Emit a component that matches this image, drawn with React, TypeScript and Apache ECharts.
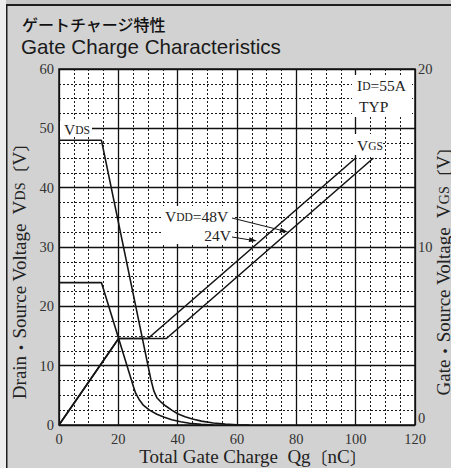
import React, { useEffect, useRef } from "react";
import * as echarts from "echarts";

// ---- data ----
const qgVds48 = [0, 14.3, 30, 31, 32, 33, 34.5, 36, 38, 40, 42.5, 45, 48, 52, 56, 60, 64];
const vds48 = [48, 48, 10, 7.6, 5.7, 4.6, 3.8, 3.2, 2.5, 1.9, 1.4, 1.0, 0.65, 0.35, 0.15, 0.05, 0];
const qgVds24 = [0, 14.3, 25, 25.8, 27, 28.5, 30.5, 33, 35.5, 38, 41, 44, 48, 52];
const vds24 = [24, 24, 6.6, 5.4, 4.3, 3.3, 2.5, 1.8, 1.3, 0.9, 0.55, 0.3, 0.1, 0];
const qgVgs24 = [0, 20.1, 30, 100];
const vgs24 = [0, 4.86, 4.86, 15];
const qgVgs48 = [0, 20.1, 36.2, 106];
const vgs48 = [0, 4.86, 4.86, 15];

const xRange = [0, 120];
const xStep = 20;
const yLeftRange = [0, 60];
const yLeftStep = 10;
const yRightRange = [0, 20];
const yRightStep = 10;

const SERIF = "'Liberation Serif', 'Times New Roman', serif";
const CJK = "'Noto Sans CJK JP', 'Noto Sans', sans-serif";
const INK = "#151515";

function zip(xs: number[], ys: number[]) {
  return xs.map((x, i) => [x, ys[i]]);
}

function arrow(x1: number, y1: number, x2: number, y2: number) {
  const dx = x2 - x1;
  const dy = y2 - y1;
  const L = Math.hypot(dx, dy);
  const ux = dx / L;
  const uy = dy / L;
  const len = 8;
  const w = 2.4;
  const bx = x2 - ux * len;
  const by = y2 - uy * len;
  return [
    {
      type: "line",
      z: 120,
      shape: { x1, y1, x2: bx, y2: by },
      style: { stroke: INK, lineWidth: 1 },
    },
    {
      type: "polygon",
      z: 120,
      shape: {
        points: [
          [x2, y2],
          [bx - uy * w, by + ux * w],
          [bx + uy * w, by - ux * w],
        ],
      },
      style: { fill: INK },
    },
  ];
}

export default function App() {
  const ref = useRef<HTMLDivElement>(null);
  useEffect(() => {
    document.body.style.margin = "0";
    if (!ref.current) return;
    const chart = echarts.init(ref.current, undefined, { renderer: "svg" });
    const lineSeries = (name: string, data: number[][], yAxisIndex: number) => ({
      name,
      type: "line",
      yAxisIndex,
      data,
      showSymbol: false,
      symbol: "none",
      lineStyle: { color: INK, width: 1.6 },
      z: 5,
    });
    const axisTitleRich = {
      n: { fontFamily: SERIF, fontSize: 19, fill: "#222", verticalAlign: "bottom" },
      s: { fontFamily: SERIF, fontSize: 14, fill: "#222", verticalAlign: "bottom", padding: [0, 0, 1, 0] },
      b: { fontFamily: CJK, fontSize: 17, fill: "#222", verticalAlign: "bottom" },
    };
    const annRich = {
      n: { fontFamily: SERIF, fontSize: 15.5, fill: "#222", verticalAlign: "bottom" },
      s: { fontFamily: SERIF, fontSize: 11.5, fill: "#222", verticalAlign: "bottom", padding: [0, 0, 1, 0] },
    };
    const minorLine = { show: true, lineStyle: { color: "#1a1a1a", width: 1, type: [2, 2] } };
    const majorLine = { show: true, lineStyle: { color: "#111", width: 1.3 } };
    chart.setOption({
      animation: false,
      backgroundColor: "#d2d2d2",
      grid: {
        left: 59,
        right: 36,
        top: 69,
        bottom: 43,
        show: true,
        backgroundColor: "#ffffff",
        borderColor: INK,
        borderWidth: 1.5,
        containLabel: false,
      },
      xAxis: {
        type: "value",
        min: xRange[0],
        max: xRange[1],
        interval: xStep,
        axisLine: { show: false },
        axisTick: { show: false },
        axisLabel: { fontFamily: SERIF, fontSize: 14.5, color: "#333", margin: 6 },
        splitLine: majorLine,
        minorTick: { show: false, splitNumber: 4 },
        minorSplitLine: minorLine,
      },
      yAxis: [
        {
          type: "value",
          min: yLeftRange[0],
          max: yLeftRange[1],
          interval: yLeftStep,
          axisLine: { show: false },
          axisTick: { show: false },
          axisLabel: { fontFamily: SERIF, fontSize: 14.5, color: "#333", margin: 5 },
          splitLine: majorLine,
          minorTick: { show: false, splitNumber: 4 },
          minorSplitLine: minorLine,
        },
        {
          type: "value",
          position: "right",
          min: yRightRange[0],
          max: yRightRange[1],
          interval: yRightStep,
          axisLine: { show: false },
          axisTick: { show: false },
          axisLabel: {
            fontFamily: SERIF,
            fontSize: 14.5,
            color: "#333",
            margin: 3,
            formatter: (v: number) => (v === 0 ? "{z|0}" : String(v)),
            rich: { z: { fontFamily: SERIF, fontSize: 14.5, color: "#333", padding: [0, 0, 14, 0] } },
          },
          splitLine: { show: false },
        },
      ],
      series: [
        lineSeries("VDS 48V", zip(qgVds48, vds48), 0),
        lineSeries("VDS 24V", zip(qgVds24, vds24), 0),
        lineSeries("VGS 24V", zip(qgVgs24, vgs24), 1),
        lineSeries("VGS 48V", zip(qgVgs48, vgs48), 1),
      ],
      graphic: [
        // frame
        { type: "rect", z: 0, shape: { x: 0, y: 0, width: 6, height: 468 }, style: { fill: "#ededed" } },
        { type: "rect", z: 0, shape: { x: 6, y: 0, width: 445, height: 4 }, style: { fill: "#c6c6c6" } },
        { type: "rect", z: 0, shape: { x: 6, y: 4, width: 445, height: 2 }, style: { fill: "#1e1e1e" } },
        { type: "rect", z: 0, shape: { x: 6, y: 4, width: 1.5, height: 464 }, style: { fill: "#1e1e1e" } },
        // titles
        {
          type: "text",
          left: 22,
          top: 16,
          style: { text: "ゲートチャージ特性", fontFamily: CJK, fontSize: 16, fontWeight: 500, fill: "#111" },
        },
        {
          type: "text",
          left: 21,
          top: 36,
          style: {
            text: "Gate Charge Characteristics",
            fontFamily: "'Liberation Sans', Arial, sans-serif",
            fontSize: 20.6,
            fill: "#1a1a1a",
          },
        },
        // axis titles
        {
          type: "text",
          x: 19,
          y: 267,
          rotation: Math.PI / 2,
          style: {
            text: "{n|Drain}{b|・}{n|Source Voltage  V}{s|DS}{b|〔}{n|V}{b|〕}",
            rich: axisTitleRich,
            align: "center",
            verticalAlign: "middle",
          },
        },
        {
          type: "text",
          x: 443,
          y: 267,
          rotation: Math.PI / 2,
          style: {
            text: "{n|Gate}{b|・}{n|Source Voltage  V}{s|GS}{b|〔}{n|V}{b|〕}",
            rich: axisTitleRich,
            align: "center",
            verticalAlign: "middle",
          },
        },
        {
          type: "text",
          x: 253,
          y: 456,
          style: {
            text: "{n|Total Gate Charge  Qg}{b|〔}{n|nC}{b|〕}",
            rich: axisTitleRich,
            align: "center",
            verticalAlign: "middle",
          },
        },
        // annotation boxes
        { type: "rect", z: 100, shape: { x: 60, y: 121, width: 32, height: 16 }, style: { fill: "#fff" } },
        { type: "rect", z: 100, shape: { x: 353, y: 134, width: 28, height: 21 }, style: { fill: "#fff" } },
        { type: "rect", z: 100, shape: { x: 352, y: 75, width: 60, height: 42 }, style: { fill: "#fff" } },
        { type: "rect", z: 100, shape: { x: 162, y: 206, width: 71, height: 38 }, style: { fill: "#fff" } },
        {
          type: "text",
          z: 110,
          left: 64,
          top: 121,
          style: { text: "{n|V}{s|DS}", rich: annRich },
        },
        {
          type: "text",
          z: 110,
          left: 357,
          top: 137,
          style: { text: "{n|V}{s|GS}", rich: annRich },
        },
        {
          type: "text",
          z: 110,
          left: 357,
          top: 77,
          style: { text: "{n|I}{s|D}{n|=55A}", rich: annRich },
        },
        {
          type: "text",
          z: 110,
          left: 359,
          top: 98,
          style: { text: "{n|TYP}", rich: annRich },
        },
        {
          type: "text",
          z: 110,
          left: 165,
          top: 208,
          style: { text: "{n|V}{s|DD}{n|=48V}", rich: annRich },
        },
        {
          type: "text",
          z: 110,
          right: 451 - 231,
          top: 227,
          style: { text: "{n|24V}", rich: annRich },
        },
        ...arrow(232, 218, 288, 232),
        ...arrow(232, 237, 257, 241),
      ],
    });
    return () => chart.dispose();
  }, []);
  return <div ref={ref} style={{ width: 451, height: 468 }} />;
}
